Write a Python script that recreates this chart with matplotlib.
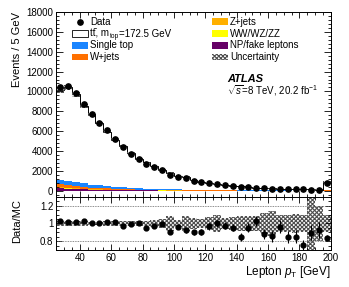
import numpy as np
import matplotlib
matplotlib.use("Agg")
import matplotlib.pyplot as plt
from matplotlib.patches import Rectangle
from matplotlib.ticker import MultipleLocator

plt.rcParams['font.family'] = ['Liberation Sans', 'DejaVu Sans']
plt.rcParams['mathtext.fontset'] = 'custom'
plt.rcParams['mathtext.rm'] = 'Liberation Sans'
plt.rcParams['mathtext.it'] = 'Liberation Sans:italic'
plt.rcParams['mathtext.bf'] = 'Liberation Sans:bold'
plt.rcParams['hatch.linewidth'] = 0.8

# lepton pT bins, 25-200 GeV in 5 GeV steps (last bin holds overflow)
edges = np.arange(25, 201, 5)

data = [10450, 10590, 9850, 8780, 7740, 6830, 6070, 5260, 4390, 3720,
        3190, 2710, 2380, 2050, 1610, 1410, 1260, 950, 840, 740,
        640, 570, 500, 400, 370, 300, 240, 200, 170, 170,
        150, 130, 120, 100, 740]

ttbar = [9105, 9410, 8830, 7824, 7091, 6296, 5475, 4751, 4170, 3468,
         2938, 2633, 2255, 1905, 1643, 1338, 1254, 957, 842, 688,
         570, 524, 470, 425, 347, 252, 236, 202, 149, 176,
         153, 153, 115, 91, 802]

single_top = [450, 430, 390, 340, 300, 260, 230, 200, 175, 150,
              130, 115, 100, 88, 77, 68, 60, 53, 47, 42,
              37, 33, 29, 26, 23, 21, 19, 17, 15, 13,
              12, 11, 10, 9, 40]

wjets = [300, 270, 240, 200, 170, 145, 125, 105, 90, 78,
         67, 58, 50, 44, 38, 33, 29, 26, 23, 20,
         18, 16, 14, 12, 11, 10, 9, 8, 7, 6,
         6, 5, 5, 4, 20]

zjets = [60, 55, 48, 40, 34, 29, 25, 21, 18, 15,
         13, 11, 10, 9, 8, 7, 6, 5, 5, 4,
         4, 3, 3, 3, 2, 2, 2, 2, 2, 2,
         1, 1, 1, 1, 5]

diboson = [20, 18, 16, 14, 12, 10, 9, 8, 7, 6,
           5, 5, 4, 4, 3, 3, 3, 2, 2, 2,
           2, 2, 2, 1, 1, 1, 1, 1, 1, 1,
           1, 1, 1, 1, 4]

fakes = [250, 220, 180, 140, 110, 90, 75, 62, 52, 44,
         37, 31, 27, 23, 20, 17, 15, 13, 11, 10,
         9, 8, 7, 6, 5, 5, 4, 4, 3, 3,
         3, 2, 2, 2, 10]

# relative systematic uncertainty on the prediction
rel_unc = [0.03, 0.025, 0.025, 0.025, 0.02, 0.02, 0.025, 0.025, 0.03, 0.03,
           0.03, 0.03, 0.035, 0.05, 0.08, 0.04, 0.09, 0.06, 0.05, 0.07,
           0.10, 0.06, 0.07, 0.08, 0.09, 0.08, 0.12, 0.14, 0.10, 0.10,
           0.11, 0.10, 0.35, 0.20, 0.10]

HATCH = 'xxxxxxxx'
HCOL = '0.3'

# stack, drawn bottom to top
stack = [
    (fakes, '#660066', 'NP/fake leptons'),
    (diboson, '#ffff00', 'WW/WZ/ZZ'),
    (zjets, '#ffb000', 'Z+jets'),
    (wjets, '#ff7000', 'W+jets'),
    (single_top, '#1a85ff', 'Single top'),
    (ttbar, 'white', 'ttbar'),
]

data = np.array(data, float)
total = np.zeros(len(data))
for vals, _, _ in stack:
    total = total + np.array(vals, float)
unc = np.array(rel_unc)
centers = 0.5 * (edges[1:] + edges[:-1])
ratio = data / total
ratio_err = np.sqrt(data) / total

fig = plt.figure(figsize=(3.49, 2.87), dpi=100)
ax = fig.add_axes([0.161, 0.3136, 0.787, 0.6446])
rax = fig.add_axes([0.161, 0.129, 0.787, 0.1846], sharex=ax)

base = np.zeros(len(data))
for vals, col, lab in stack:
    top = base + np.array(vals, float)
    ax.stairs(top, edges, baseline=base, fill=True, color=col, lw=0)
    base = top
ax.stairs(total, edges, color='black', lw=0.7)
ax.stairs(total * (1 + unc), edges, baseline=total * (1 - unc), fill=True,
          facecolor='none', edgecolor=HCOL, hatch=HATCH, lw=0)
ax.errorbar(centers, data, yerr=np.sqrt(data), fmt='o', color='black',
            ms=3.8, elinewidth=0.8, capsize=0)

ax.set_xlim(25, 200)
ax.set_ylim(-630, 18000)
ax.yaxis.set_major_locator(MultipleLocator(2000))
ax.yaxis.set_minor_locator(MultipleLocator(400))
ax.xaxis.set_major_locator(MultipleLocator(20))
ax.xaxis.set_minor_locator(MultipleLocator(5))
ax.tick_params(axis='x', labelbottom=False)
ax.set_ylabel('Events / 5 GeV', fontsize=8, loc='top')
ax.yaxis.set_label_coords(-0.123, 1.0)

# legend drawn by hand, two columns of four rows
rows = [0.948, 0.884, 0.820, 0.756]
bw, bh = 0.058, 0.036
base_off = 0.017   # row centre to text baseline
col1 = [('marker', None, 'Data'),
        ('box', dict(facecolor='white', edgecolor='black', lw=0.6), None),
        ('box', dict(facecolor='#1a85ff', lw=0), 'Single top'),
        ('box', dict(facecolor='#ff7000', lw=0), 'W+jets')]
col2 = [('box', dict(facecolor='#ffb000', lw=0), 'Z+jets'),
        ('box', dict(facecolor='#ffff00', lw=0), 'WW/WZ/ZZ'),
        ('box', dict(facecolor='#660066', lw=0), 'NP/fake leptons'),
        ('box', dict(facecolor='white', edgecolor=HCOL, hatch=HATCH, lw=0),
         'Uncertainty')]
for x0, entries in ((0.058, col1), (0.567, col2)):
    for y, (kind, style, lab) in zip(rows, entries):
        if kind == 'marker':
            ax.plot([x0 + bw / 2], [y], 'o', color='black', ms=3.8,
                    transform=ax.transAxes, clip_on=False)
        else:
            ax.add_patch(Rectangle((x0, y - bh / 2), bw, bh,
                                   transform=ax.transAxes, clip_on=False,
                                   **style))
        tx = x0 + bw + 0.008
        if lab is not None:
            ax.text(tx, y - base_off, lab, transform=ax.transAxes,
                    fontsize=7, va='baseline', ha='left')
        else:
            # ttbar label built from pieces so it keeps a normal line height
            t1 = ax.text(tx, y - base_off, 'tt\u0304, m', transform=ax.transAxes,
                         fontsize=7, va='baseline', ha='left')
            t2 = ax.annotate('top', xy=(1, 0), xycoords=t1, xytext=(0.3, -0.8),
                             textcoords='offset points', fontsize=4.8,
                             va='bottom', ha='left')
            ax.annotate('=172.5 GeV', xy=(1, 0), xycoords=t2, xytext=(0.3, 0.8),
                        textcoords='offset points', fontsize=7,
                        va='bottom', ha='left')

ax.text(0.622, 0.64, 'ATLAS', transform=ax.transAxes, fontsize=8,
        fontweight='bold', fontstyle='italic', va='center')
ax.text(0.622, 0.575, r'$\sqrt{s}$=8 TeV, 20.2 fb$^{-1}$',
        transform=ax.transAxes, fontsize=7, va='center')

# ratio panel
rax.stairs(1 + unc, edges, baseline=1 - unc, fill=True, facecolor='none',
           edgecolor=HCOL, hatch=HATCH, lw=0)
for lvl in (0.8, 1.2):
    rax.axhline(lvl, color='0.4', ls=(0, (1, 1)), lw=0.6)
rax.errorbar(centers, ratio, yerr=ratio_err, fmt='o', color='black',
             ms=3.5, elinewidth=0.8, capsize=0)
rax.set_ylim(0.7, 1.3)
rax.set_yticks([0.8, 1.0, 1.2])
rax.set_yticklabels(['0.8', '1', '1.2'])
rax.yaxis.set_minor_locator(MultipleLocator(0.05))
rax.set_ylabel('Data/MC', fontsize=8)
rax.yaxis.set_label_coords(-0.123, 0.55)
rax.set_xlabel(r'Lepton $p_{\rm T}$ [GeV]', fontsize=8.5, loc='right')
rax.xaxis.set_label_coords(1.0, -0.27)

for a in (ax, rax):
    a.tick_params(which='both', direction='in', top=True, right=True,
                  labelsize=7, width=0.6, pad=2)
    a.tick_params(which='major', length=4)
    a.tick_params(which='minor', length=2)
    for s in a.spines.values():
        s.set_linewidth(0.7)
ax.tick_params(axis='y', which='major', length=5)

fig.savefig('out.png', dpi=100)
